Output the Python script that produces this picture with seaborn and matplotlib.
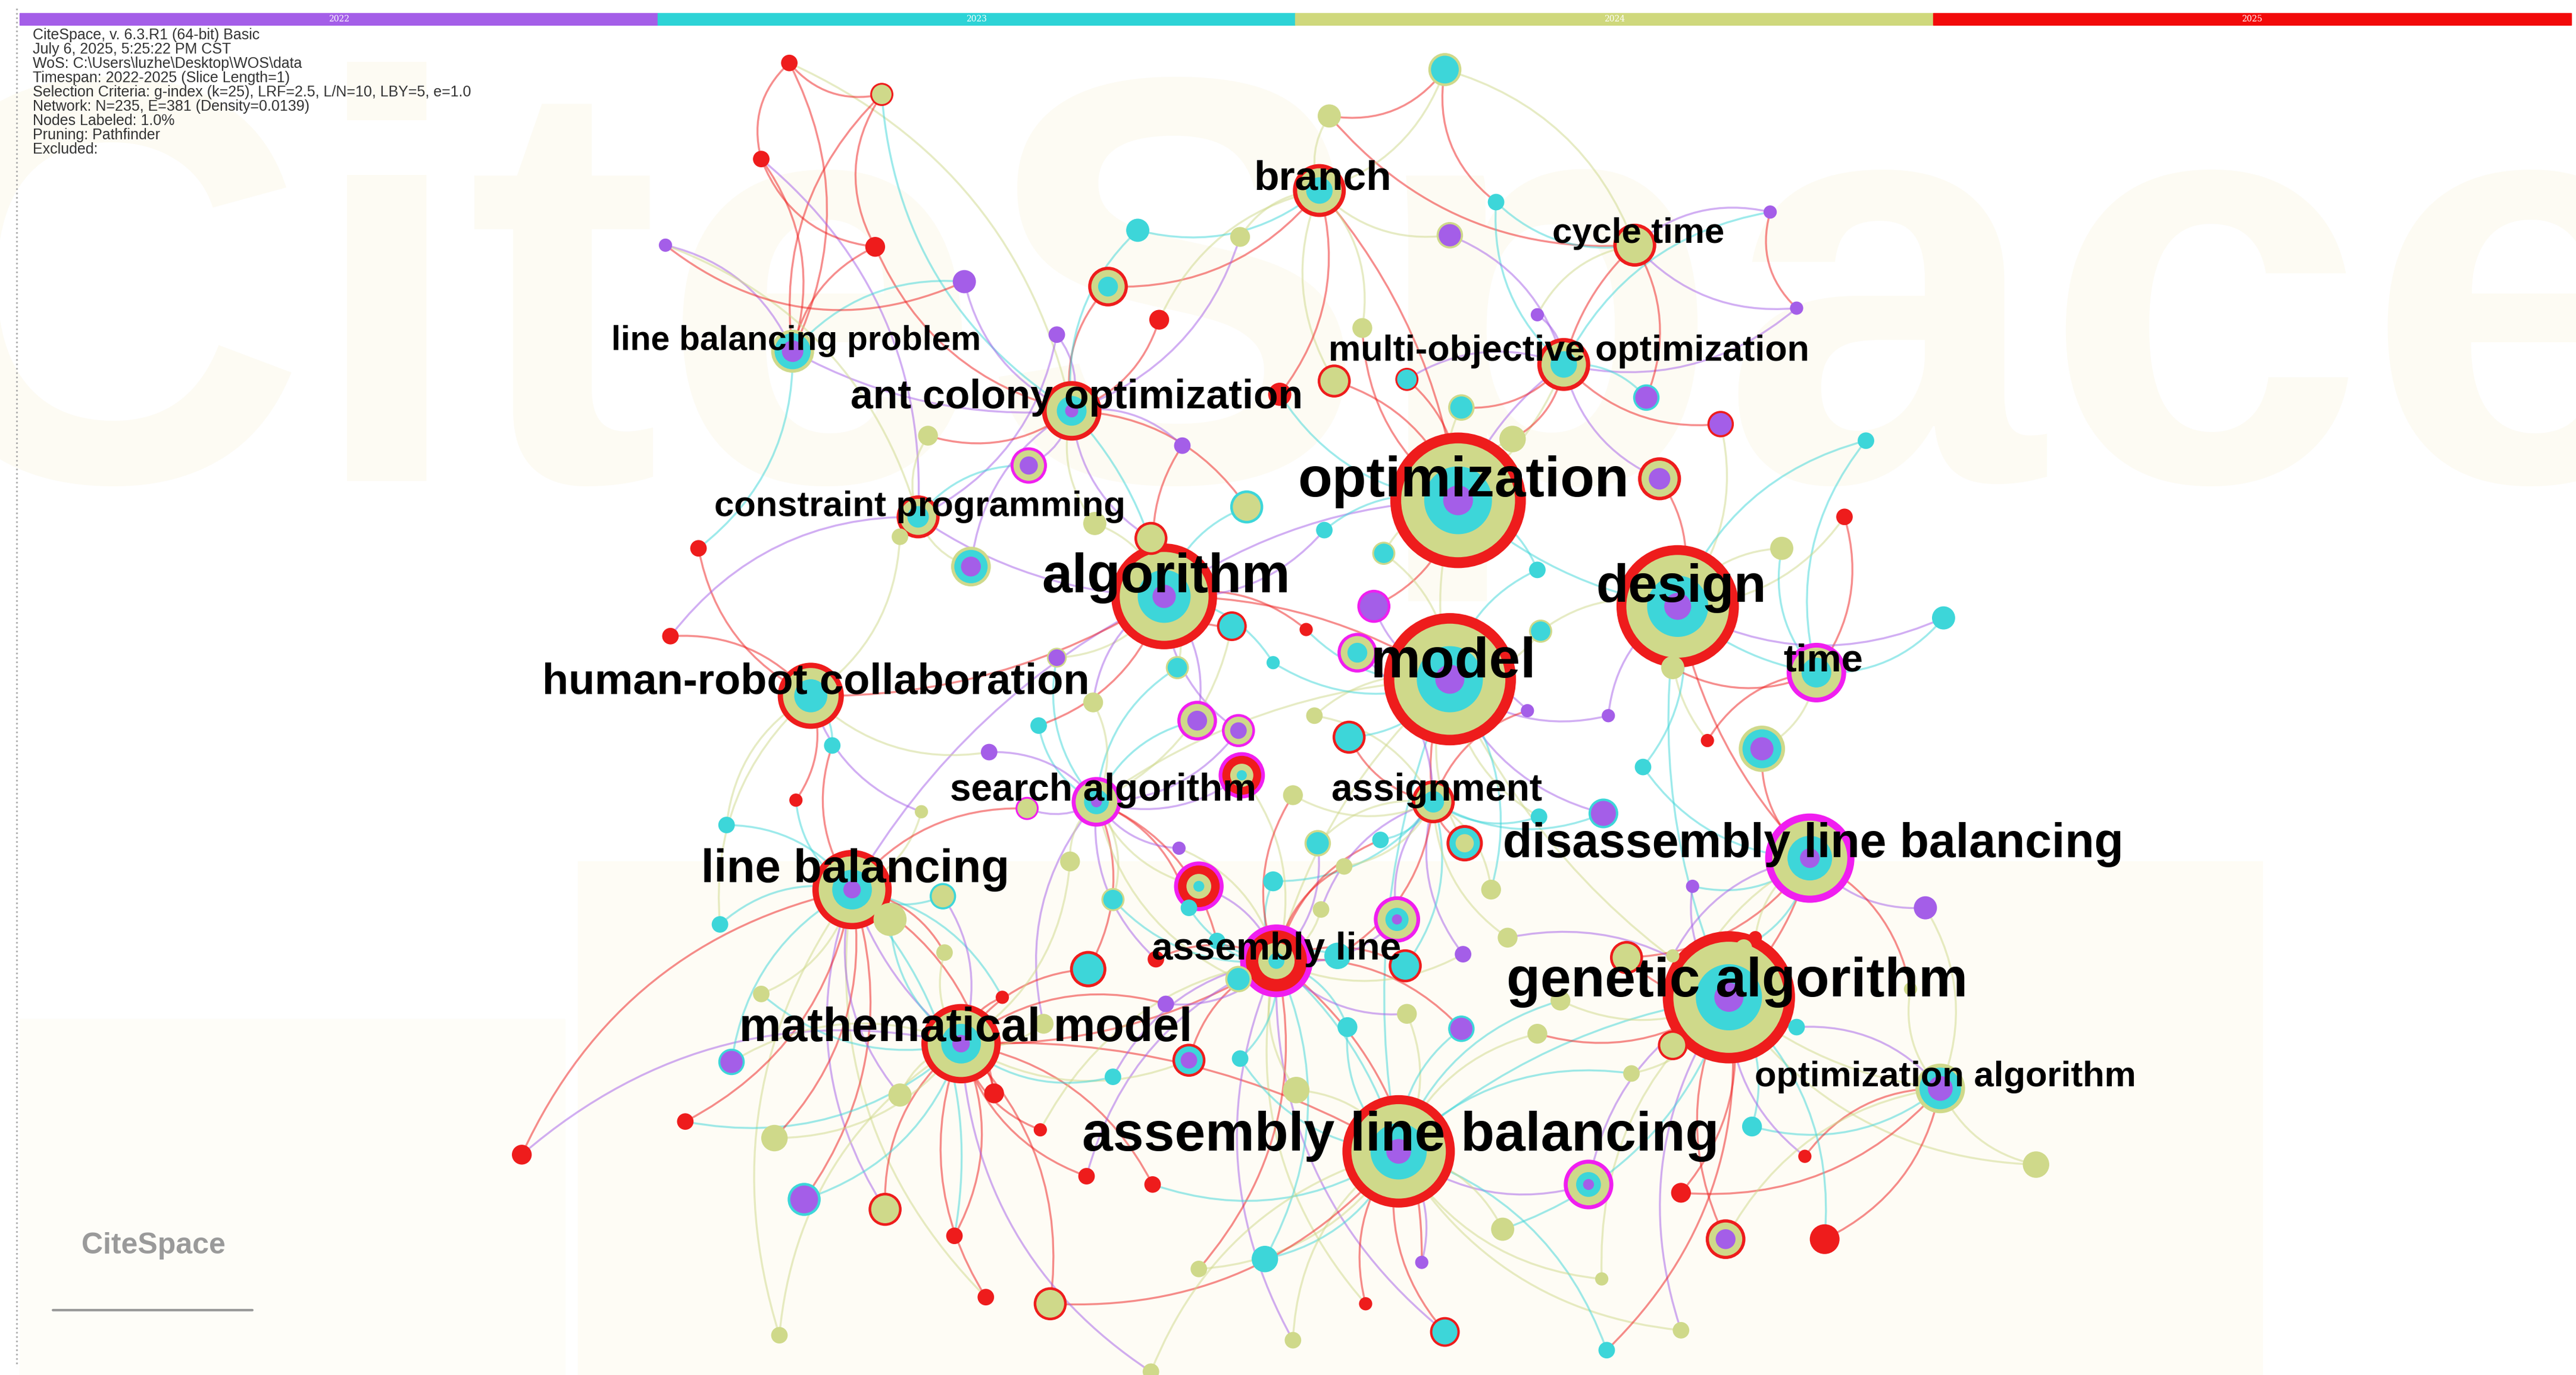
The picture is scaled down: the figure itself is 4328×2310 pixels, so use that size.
import numpy as np
import pandas as pd
import matplotlib
matplotlib.use("Agg")
import matplotlib.pyplot as plt
import seaborn as sns
from matplotlib.patches import FancyArrowPatch, Rectangle

sns.set_theme(style="white")
plt.rcParams['font.family'] = ['Liberation Sans', 'DejaVu Sans']

COL = {'R': '#ee1c1c', 'Y': '#cfd98a', 'C': '#3dd6d9', 'P': '#a45ee8', 'M': '#f01ef0'}
FR = [1.0, 0.84, 0.5, 0.22, 0.1]

hub_labels = ["optimization", "design", "model", "algorithm", "genetic algorithm",
              "assembly line balancing", "disassembly line balancing", "line balancing",
              "mathematical model", "human-robot collaboration", "assembly line",
              "ant colony optimization", "constraint programming", "line balancing problem",
              "branch", "cycle time", "multi-objective optimization", "time",
              "search algorithm", "assignment", "optimization algorithm"]
hub_x = [883, 1016, 878, 705, 1047, 847, 1096, 516, 582, 491, 773, 649, 556, 480, 799, 990, 947, 1100, 664, 868, 1175]
hub_y = [302, 366, 410, 360, 602, 695, 518, 537, 630, 420, 580, 248, 312, 212, 115, 148, 220, 406, 484, 484, 657]
hub_r = [41, 37, 40, 32, 40, 34, 27, 24, 24, 20, 22, 18, 13, 13, 16, 13, 16, 18, 15, 13, 15]
hub_rings = ["RYCP", "RYCP", "RYCP", "RYCP", "RYCP", "RYCP", "MYCP", "RYCP", "RYCP", "RYC",
             "MRYC", "RYCP", "RYC", "YCP", "RYC", "RYY", "RYC", "MYC", "MYCP", "RYC", "YCP"]
lab_x = [886, 1018, 880, 706, 1052, 848, 1098, 518, 585, 494, 773, 652, 557, 482, 801, 992, 950, 1104, 668, 870, 1178]
lab_y = [291, 355, 400, 349, 593, 686, 510, 525, 621, 412, 573, 240, 306, 206, 108, 141, 212, 399, 477, 477, 650]
lab_fs = [68, 64, 68, 66, 67, 67, 58, 56, 57, 52, 46, 49, 43, 41, 50, 43, 44, 47, 46, 46, 43]

small_nodes = [
 (478,38,5,"R"),(534,57,7,"RY"),(461,96,5,"R"),(530,149,6,"R"),(403,148,4,"P"),
 (584,170,7,"P"),(640,202,5,"P"),(671,173,12,"RYC"),(702,193,6,"R"),(689,139,7,"C"),
 (751,143,6,"Y"),(805,70,7,"YY"),(875,42,10,"YC"),(906,122,5,"C"),(878,142,8,"YP"),
 (825,198,6,"Y"),(808,230,10,"RY"),(775,238,7,"R"),(852,229,7,"RC"),(885,246,8,"YC"),
 (931,190,4,"P"),(1072,128,4,"P"),(1088,186,4,"P"),(997,240,8,"CP"),(1042,256,8,"RP"),
 (1130,266,5,"C"),(1005,289,13,"RYP"),(916,265,8,"Y"),(1117,312,5,"R"),(1079,331,7,"Y"),
 (1177,373,7,"C"),(1067,452,14,"YCP"),(1034,447,4,"R"),(995,463,5,"C"),(971,491,9,"CP"),
 (1013,403,7,"Y"),(933,381,7,"YC"),(931,344,5,"C"),(974,432,4,"P"),(925,429,4,"P"),
 (1166,548,7,"P"),(1025,535,4,"P"),(1088,620,5,"C"),(1157,597,4,"Y"),(1233,703,8,"Y"),
 (1061,680,6,"C"),(1093,698,4,"R"),(1018,720,6,"R"),(1045,748,12,"RYP"),(1105,748,9,"R"),
 (962,715,15,"MYCP"),(985,578,10,"RY"),(1013,631,9,"RY"),(988,648,5,"Y"),(1018,803,5,"Y"),
 (973,815,5,"C"),(970,772,4,"Y"),(910,742,7,"Y"),(875,804,9,"RC"),(861,762,4,"P"),
 (827,787,4,"R"),(766,760,8,"C"),(783,809,5,"Y"),(726,766,5,"Y"),(785,658,8,"YY"),
 (698,715,5,"R"),(658,710,5,"R"),(636,787,10,"RY"),(597,783,5,"R"),(578,746,5,"R"),
 (536,730,10,"RY"),(487,724,10,"CP"),(472,806,5,"Y"),(415,677,5,"R"),(316,697,6,"R"),
 (469,687,8,"Y"),(443,641,8,"CP"),(461,600,5,"Y"),(545,661,7,"Y"),(602,660,6,"R"),
 (630,682,4,"R"),(607,602,4,"R"),(632,618,6,"Y"),(659,585,11,"RC"),(720,640,10,"RCP"),
 (751,639,5,"C"),(674,650,5,"C"),(706,606,5,"P"),(750,591,8,"YC"),(816,620,6,"C"),
 (852,612,6,"Y"),(885,621,8,"CP"),(886,576,5,"P"),(851,583,10,"RC"),(846,555,14,"MYCP"),
 (810,577,8,"C"),(726,535,15,"MRYC"),(771,532,6,"C"),(798,509,8,"YC"),(836,507,5,"C"),
 (887,509,11,"RCY"),(903,537,6,"Y"),(913,566,6,"Y"),(931,624,6,"Y"),(932,493,5,"C"),
 (945,604,6,"Y"),(800,549,5,"Y"),(814,523,5,"Y"),(752,468,14,"MRYC"),(725,435,12,"MYP"),
 (750,441,10,"MYP"),(783,480,6,"Y"),(796,432,5,"Y"),(817,445,10,"RC"),(822,394,12,"MYC"),
 (832,366,10,"MP"),(838,334,7,"YC"),(791,380,4,"R"),(802,320,5,"C"),(755,306,10,"CY"),
 (746,378,9,"RC"),(713,403,7,"YC"),(697,325,10,"RY"),(716,269,5,"P"),(663,316,7,"Y"),
 (640,397,6,"YP"),(662,424,6,"Y"),(629,438,5,"C"),(599,454,5,"P"),(623,281,11,"MYP"),
 (588,342,12,"YCP"),(562,263,6,"Y"),(545,324,5,"Y"),(423,331,5,"R"),(406,384,5,"R"),
 (504,450,5,"C"),(440,498,5,"C"),(482,483,4,"R"),(558,490,4,"Y"),(622,488,7,"MY"),
 (648,520,6,"Y"),(539,555,10,"YY"),(571,541,8,"CY"),(572,575,5,"Y"),(436,558,5,"C"),
 (674,543,7,"YC"),(700,579,5,"R"),(720,548,5,"C"),(714,512,4,"P"),(771,400,4,"C"),
 (697,828,5,"Y"),(737,568,5,"C"),(1063,566,4,"R"),(1056,572,5,"Y"),(1013,577,4,"Y"),
]

hub_edges = [(0,2,'Y'),(0,1,'C'),(2,3,'R'),(2,4,'Y'),(2,5,'C'),(3,7,'P'),(4,6,'R'),(5,10,'C'),
             (1,6,'R'),(0,3,'P'),(2,10,'Y'),(4,5,'C'),(8,10,'R'),(7,8,'P'),(3,11,'C'),(0,14,'R'),
             (9,3,'R'),(2,18,'Y'),(2,19,'R'),(1,17,'C'),(4,20,'Y'),(16,0,'P'),(15,16,'R'),
             (12,3,'P'),(13,11,'P'),(5,8,'R'),(1,4,'C'),(0,16,'Y')]
top_edges = [(0,1),(0,2),(1,3),(2,3),(4,5),(21,22),(11,12),(12,13)]

year_labels = ["2022", "2023", "2024", "2025"]
year_cols = ['#a45ee8', '#2dd3d6', '#cfd87c', '#f20a0a']

info_lines = ["CiteSpace, v. 6.3.R1 (64-bit) Basic", "July 6, 2025, 5:25:22 PM CST",
              "WoS: C:\\Users\\luzhe\\Desktop\\WOS\\data", "Timespan: 2022-2025 (Slice Length=1)",
              "Selection Criteria: g-index (k=25), LRF=2.5, L/N=10, LBY=5, e=1.0",
              "Network: N=235, E=381 (Density=0.0139)", "Nodes Labeled: 1.0%",
              "Pruning: Pathfinder", "Excluded:"]

fig = plt.figure(figsize=(43.28, 23.10), dpi=100)
ax = fig.add_axes([0, 0, 1, 1])
ax.set_xlim(0, 1560)
ax.set_ylim(830, 0)
ax.axis('off')

ax.add_patch(Rectangle((350, 520), 1020, 310, color='#fefcf5', zorder=0))
ax.add_patch(Rectangle((12, 615), 330, 215, color='#fefdf8', zorder=0))
ax.text(780, 200, "CiteSpace", fontsize=700, color='#fdfbf3', ha='center', va='center',
        fontweight='bold', zorder=0, clip_on=True)
ax.plot([10, 10], [5, 825], color='#aaaaaa', lw=2, ls=':', zorder=1)

seg = (1557 - 12) / 4
for i, (yl, yc) in enumerate(zip(year_labels, year_cols)):
    ax.add_patch(Rectangle((12 + i * seg, 8), seg, 7, color=yc, zorder=5))
    ax.text(12 + i * seg + seg / 2, 11.5, yl, fontsize=10, color='white', ha='center', va='center',
            family='DejaVu Serif', zorder=6)
ax.text(20, 17, "\n".join(info_lines), fontsize=18, color='#333333', va='top', ha='left',
        linespacing=1.0, zorder=6)

NX = list(hub_x) + [n[0] for n in small_nodes]
NY = list(hub_y) + [n[1] for n in small_nodes]
NR = list(hub_r) + [n[2] for n in small_nodes]
NRing = list(hub_rings) + [n[3] for n in small_nodes]

def edge(i, j, c, rad=0.2):
    p = FancyArrowPatch((NX[i], NY[i]), (NX[j], NY[j]), arrowstyle='-',
                        connectionstyle=f"arc3,rad={rad}", color=COL[c], lw=2.4,
                        alpha=0.5, zorder=2)
    ax.add_patch(p)

for i, j, c in hub_edges:
    edge(i, j, c, 0.15)
hx = np.array(hub_x); hy = np.array(hub_y)
for k, (x, y, r, rings) in enumerate(small_nodes):
    d = np.hypot(hx - x, hy - y)
    near = np.argsort(d)[:2]
    c = rings[0] if rings[0] != 'M' else 'P'
    for n_i, h in enumerate(near):
        edge(21 + k, int(h), c if n_i == 0 else ['Y', 'C', 'P', 'R'][k % 4], 0.25 if k % 2 else -0.25)
for a, b in top_edges:
    edge(21 + a, 21 + b, 'R', 0.3)

rows = []
for x, y, r, rings in zip(NX, NY, NR, NRing):
    for li, ch in enumerate(rings):
        rr = r * FR[li]
        rows.append((x, y, (4 * rr) ** 2, COL[ch]))
df = pd.DataFrame(rows, columns=['x', 'y', 's', 'c'])
sns.scatterplot(data=df, x='x', y='y', hue='c', palette={c: c for c in df.c.unique()},
                s=df.s.values, linewidth=0, legend=False, ax=ax, zorder=3)

for t, x, y, fs in zip(hub_labels, lab_x, lab_y, lab_fs):
    ax.text(x, y, t, fontsize=fs, fontweight='bold', color='black', ha='center', va='center', zorder=8)

ax.text(93, 752, "CiteSpace", fontsize=36, fontweight='bold', color='#9a9a9a', ha='center', va='center', zorder=6)
ax.plot([32, 153], [791, 791], color='#9a9a9a', lw=3, zorder=6)
ax.set_xlim(0, 1560)
ax.set_ylim(830, 0)
fig.savefig("out.png", dpi=100)
